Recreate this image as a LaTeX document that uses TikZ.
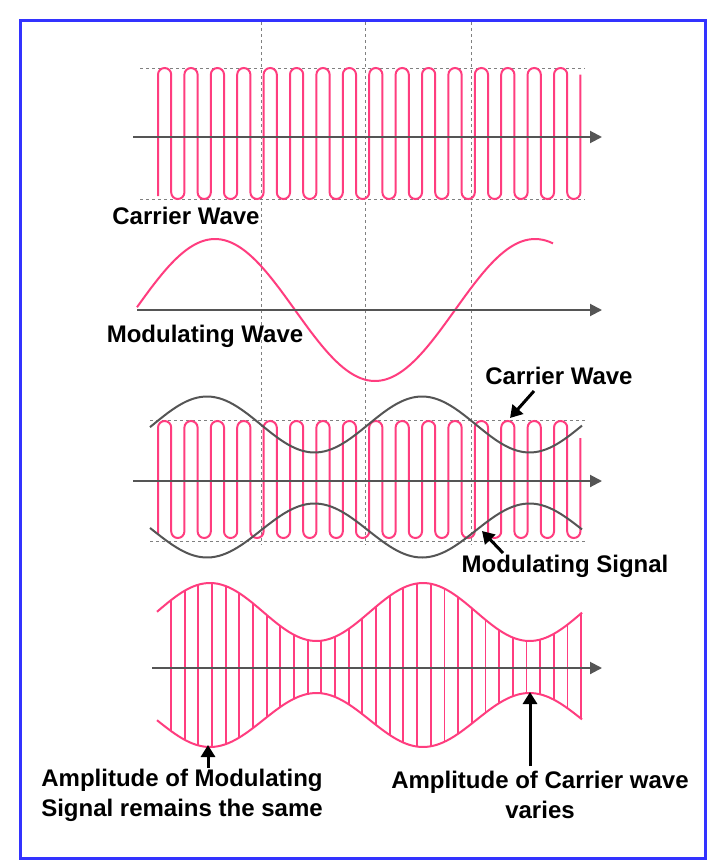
\documentclass[tikz,border=0pt]{standalone}
\usepackage{fontspec}
\setmainfont{Liberation Sans}
\usetikzlibrary{arrows.meta}
\definecolor{pinkw}{HTML}{FF3D7F}
\definecolor{axisg}{HTML}{555555}
\definecolor{frameb}{HTML}{3333FF}
\tikzset{
 axis/.style={axisg, line width=2pt, -{Triangle[length=12pt,width=12pt]}},
 guide/.style={gray, dashed, line width=0.6pt},
 wave/.style={pinkw, line width=2pt},
 env/.style={axisg, line width=2pt},
 lbl/.style={font=\fontsize{24}{30}\selectfont\bfseries, align=center, inner sep=0pt},
 pointer/.style={black, line width=3pt, -{Triangle[length=12pt,width=14pt]}}
}
\begin{document}
\begin{tikzpicture}[x=1pt,y=-1pt]
\useasboundingbox (0,0) rectangle (725,862);
\fill[white] (0,0) rectangle (725,862);
\draw[frameb, line width=3pt] (20,20) rectangle (705,858);
% vertical guides
\foreach \gx in {261,365,471} \draw[guide] (\gx,22) -- (\gx,545);
% panel 1
\draw[guide] (140,68) -- (585,68);
\draw[guide] (140,199) -- (585,199);
\draw[wave] (158,196) \foreach \k in {0,...,15} { -- ({158+26.4*\k},74.6) arc(180:360:6.6) -- ({158+26.4*\k+13.2},192.4) arc(180:0:6.6) } -- (580.4,74.6);
\draw[axis] (133,137) -- (602,137);
\node[lbl] (l1) at (186,216) {Carrier Wave};
% panel 2
\draw[wave] plot[domain=137:553, samples=120] (\x, {310-71*sin((\x-135)*1.125)});
\draw[axis] (137,310) -- (602,310);
\node[lbl] (l2) at (205,336) {Modulating Wave};
% panel 3
\draw[guide] (150,420) -- (585,420);
\draw[guide] (150,541) -- (585,541);
\draw[wave] (158,534) \foreach \k in {0,...,15} { -- ({158+26.4*\k},427.6) arc(180:360:6.6) -- ({158+26.4*\k+13.2},531.4) arc(180:0:6.6) } -- (580.4,438);
\draw[env] plot[domain=150:582, samples=120] (\x, {424.5-28*cos((\x-207)*1.674)});
\draw[env] plot[domain=150:582, samples=120] (\x, {530.5+27*cos((\x-207)*1.674)});
\draw[axis] (133,481) -- (602,481);
\node[lbl] (l3) at (559,376) {Carrier Wave};
\node[lbl] (l4) at (565,566) {Modulating Signal};
\coordinate (a3) at (510,418);
\coordinate (a4) at (482,531);
\draw[pointer] (534,391) -- (a3);
\draw[pointer] (503,553) -- (a4);
% panel 4
\foreach \i in {0,...,30} {
  \pgfmathsetmacro{\vx}{171+13.67*\i}
  \draw[pinkw, line width=1.8pt] (\vx, {612-29*cos((\vx-210)*1.6901)}) -- (\vx, {720+27*cos((\vx-210)*1.6901)});
}
\draw[wave] plot[domain=157:582, samples=120] (\x, {612-29*cos((\x-210)*1.6901)});
\draw[wave] plot[domain=157:582, samples=120] (\x, {720+27*cos((\x-210)*1.6901)});
\draw[axis] (152,668) -- (602,668);
\node[lbl] (l5) at (182,795) {Amplitude of Modulating\\Signal remains the same};
\node[lbl] (l6) at (540,795) {Amplitude of Carrier wave\\varies};
\coordinate (a5) at (208,745);
\coordinate (a6) at (530,692);
\draw[pointer] (208,768) -- (a5);
\draw[pointer] (530,766) -- (a6);
\end{tikzpicture}
\end{document}
